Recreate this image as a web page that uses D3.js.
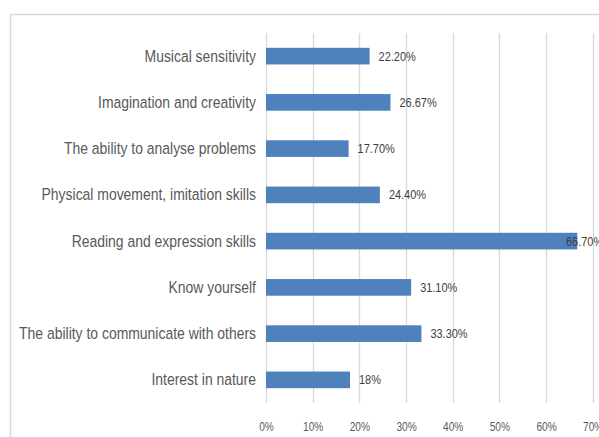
<!DOCTYPE html>
<html>
<head>
<meta charset="utf-8">
<script src="https://cdn.jsdelivr.net/npm/d3@7"></script>
<style>
  body { margin: 0; background: #fff; }
  svg { display: block; }
  text { font-family: 'Liberation Sans', Arial, sans-serif; }
</style>
</head>
<body>
<svg id="chart" width="599" height="437"></svg>
<script>
// data
var categories = [
    "Musical sensitivity",
    "Imagination and creativity",
    "The ability to analyse problems",
    "Physical movement, imitation skills",
    "Reading and expression skills",
    "Know yourself",
    "The ability to communicate with others",
    "Interest in nature"
];
var values = [22.2, 26.67, 17.7, 24.4, 66.7, 31.1, 33.3, 18];
var valueLabels = ["22.20%", "26.67%", "17.70%", "24.40%", "66.70%", "31.10%", "33.30%", "18%"];
var tickValues = [0, 10, 20, 30, 40, 50, 60, 70];

var margin = { top: 33, right: 6, bottom: 34, left: 266 },
    width = 599 - margin.left - margin.right,
    height = 437 - margin.top - margin.bottom;

var svg = d3.select("#chart");

// outer chart border (runs off the right / bottom of the picture)
svg.append("rect")
    .attr("x", 10.5)
    .attr("y", 14.5)
    .attr("width", 700)
    .attr("height", 600)
    .attr("fill", "none")
    .attr("stroke", "#d9d9d9")
    .attr("stroke-width", 1.5);

var g = svg.append("g")
    .attr("transform", "translate(" + margin.left + "," + margin.top + ")");

var xScale = d3.scaleLinear().domain([0, 70]).range([0, 326.7]);
var yScale = d3.scaleBand().domain(categories).range([0, height]).paddingInner(0.64).paddingOuter(0.32);

// gridlines
g.selectAll(".grid")
    .data(tickValues)
    .enter()
    .append("line")
    .attr("class", "grid")
    .attr("x1", function (d) { return Math.round(xScale(d)) + 0.5; })
    .attr("x2", function (d) { return Math.round(xScale(d)) + 0.5; })
    .attr("y1", 0)
    .attr("y2", height)
    .attr("stroke", "#d9d9d9")
    .attr("stroke-width", 1.3);

// x axis labels (picture is squeezed horizontally, so squeeze the text too)
var xAxis = d3.axisBottom(xScale)
    .tickValues(tickValues)
    .tickSize(0)
    .tickPadding(19)
    .tickFormat(function (d) { return d + "%"; });
var xg = g.append("g")
    .attr("transform", "translate(0," + height + ")")
    .call(xAxis);
xg.select(".domain").remove();
xg.selectAll("text")
    .attr("fill", "#595959")
    .attr("transform", "scale(0.81,1)")
    .style("font-size", "12.5px");

// y axis labels
var yAxis = d3.axisLeft(yScale).tickSize(0).tickPadding(0);
var yg = g.append("g").call(yAxis);
yg.select(".domain").remove();
yg.selectAll("text")
    .attr("x", 0)
    .attr("fill", "#595959")
    .attr("transform", "translate(-10,0) scale(0.83,1)")
    .style("font-size", "16.8px");

// bars
g.selectAll(".bar")
    .data(values)
    .enter()
    .append("rect")
    .attr("class", "bar")
    .attr("x", xScale(0))
    .attr("y", function (d, i) { return yScale(categories[i]); })
    .attr("width", function (d) { return xScale(d) - xScale(0); })
    .attr("height", yScale.bandwidth())
    .attr("fill", "#4f81bd");

// value labels
g.selectAll(".vlabel")
    .data(values)
    .enter()
    .append("text")
    .attr("class", "vlabel")
    .attr("transform", function (d, i) {
        var lx = Math.min(xScale(d) + 9, width - 27);
        var ly = yScale(categories[i]) + yScale.bandwidth() / 2;
        return "translate(" + lx + "," + ly + ") scale(0.87,1)";
    })
    .attr("dy", "0.36em")
    .attr("fill", "#404040")
    .style("font-size", "12.6px")
    .text(function (d, i) { return valueLabels[i]; });
</script>
</body>
</html>
